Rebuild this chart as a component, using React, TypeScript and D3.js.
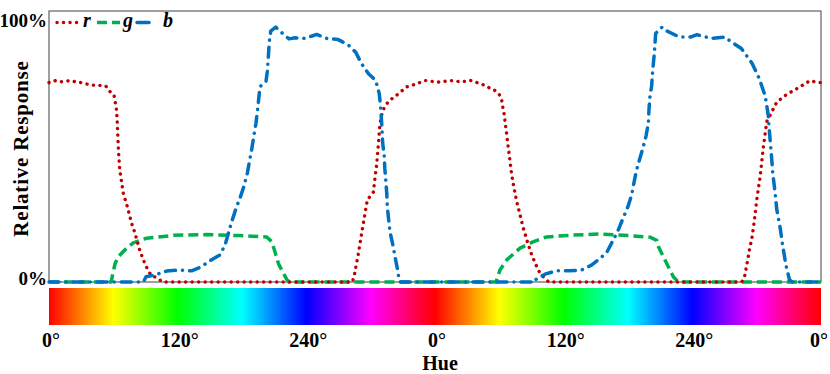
import React from "react";
import * as d3 from "d3";

// hue (deg, two full turns) vs relative response (%)
const redPts: [number, number][] = [
  [0, 76.5], [5, 77.3], [10, 76.8], [15, 77], [20, 77.3], [25, 76.8], [30, 76.5], [35, 76],
  [40, 75.6], [45, 75.5], [50, 75.4], [53, 75.2], [57, 73], [60.6, 71.8], [63, 66], [63.7, 61],
  [64.7, 51], [66, 43], [69.3, 34], [73, 29], [77, 22.6], [80, 19], [85, 11.7], [89.5, 7],
  [92.6, 4.3], [95.8, 2.3], [100, 1.8], [106, 0], [283, 0], [284.8, 2.7], [288.5, 10.8],
  [291.6, 18.7], [294.7, 26.2], [296.9, 31.5], [302.5, 34.5], [304, 39.9], [305.6, 45],
  [307.2, 53.1], [308.7, 60.8], [311.2, 65.8], [316.5, 69.3], [324.3, 71.7], [333.6, 74.9],
  [341, 75.8], [351, 77.3], [362.5, 76.7], [374.7, 77.3], [385, 76.8], [392.7, 77.4],
  [404.5, 75.8], [410.7, 74.5], [415, 73.8], [420, 71.9], [422.2, 69.7], [423.1, 67.4],
  [424.4, 64.6], [425.3, 61.7], [426.9, 56.5], [428.4, 51.4], [430, 46.3], [431.5, 41.2],
  [433.7, 36], [436.2, 30.9], [439.3, 25.8], [442.4, 20.6], [446.1, 15.5], [450.2, 10.4],
  [454.9, 5.9], [458, 3.3], [462.6, 1.4], [466, 0], [646, 0], [648.7, 2], [651, 7], [653.1, 12],
  [655.6, 17], [657.7, 23], [659.6, 30], [661.3, 35], [663.1, 40], [664.7, 46], [666, 51],
  [667.8, 56.5], [669.4, 61.5], [672.5, 64], [678.7, 69], [688, 72], [698.8, 74.5],
  [709.8, 77.3], [715.4, 76.7], [720, 76.5],
];

const greenPts: [number, number][] = [
  [0, 0], [58, 0], [59.4, 3], [61.6, 7], [64.4, 9.6], [69.3, 11.7], [72.5, 13], [78.6, 15],
  [85, 16], [91, 16.8], [116, 17.9], [147, 18.2], [178, 17.8], [203, 17.3], [207.7, 15.5],
  [210.8, 11.5], [213.9, 7.2], [215.4, 5.9], [221.7, 1], [224, 0], [417, 0], [417.5, 0.7],
  [420.6, 4.6], [426.9, 8.5], [439.3, 13], [451.4, 15.4], [464, 17.3], [488.7, 18],
  [514, 18.4], [541.9, 17.8], [560.5, 17.2], [566.8, 16], [568.3, 13.6], [572.9, 9.7],
  [576, 7.2], [582.3, 2], [587, 0], [720, 0],
];

const bluePts: [number, number][] = [
  [0, 0], [88, 0], [90.5, 2], [98.9, 2.7], [109.8, 4.2], [121.5, 4.6], [133, 4.3], [142.4, 5.9],
  [148.6, 7.8], [159.5, 10.4], [164.2, 14.2], [170, 22.6], [175, 29], [178, 32], [182, 37],
  [185, 41.8], [186.8, 46], [189, 50.8], [191, 55.9], [193, 60.8], [195, 68], [196.8, 75],
  [202.4, 77], [203.6, 80.8], [204.6, 86.7], [205.5, 92.4], [206.8, 96.3], [211.4, 97.8],
  [220, 94.6], [224, 93.3], [229.4, 93.7], [238.8, 93.5], [249.7, 95], [259, 93.5],
  [269.3, 93.1], [279, 91], [286, 88.2], [291.6, 83.7], [297.8, 80], [304.7, 77.3],
  [308, 72.3], [309.3, 67], [310.4, 60], [311.2, 53.3], [312.7, 48.2], [313.2, 43.5],
  [315, 34.1], [315.5, 29], [316.8, 23.8], [318, 19.3], [320.5, 14.6], [322.7, 9.7],
  [324.8, 5.3], [326.7, 0.5], [328, 0], [453, 0], [453.3, 0.8], [462.6, 3], [473.5, 4.3],
  [484.3, 4.3], [496.8, 4.6], [506, 6.5], [512.3, 8.5], [520.1, 11.3], [526.3, 16.2],
  [531, 20], [535, 24.1], [540, 29], [543.5, 33.5], [545.6, 38.2], [548, 43], [551.2, 47.6],
  [554.3, 52], [556.8, 56], [559, 61], [559.6, 66.4], [560.5, 71.3], [562, 75], [563, 81],
  [564.6, 88], [565.8, 95.4], [571.8, 97.8], [576.4, 96.3], [587.9, 94], [598.2, 94],
  [604.4, 94.9], [617.5, 93.5], [630.8, 94], [635.5, 92.4], [645.7, 89.6], [655.6, 84],
  [662.5, 78], [668, 71.3], [670.8, 64], [672, 57.2], [673.6, 49.5], [675, 41.8], [677, 35],
  [678.8, 27.7], [681.9, 20.8], [684.4, 13.6], [687.4, 6.3], [690.5, 1], [693, 0], [720, 0],
];

const hueTicks = [0, 120, 240, 360, 480, 600, 720];
const hueLabels = ["0°", "120°", "240°", "0°", "120°", "240°", "0°"];
const yTicks = [0, 100];
const yLabels = ["0%", "100%"];

const series = [
  { key: "g", pts: greenPts, color: "#00b050", dash: "10 5", cap: "butt", w: 3.5 },
  { key: "r", pts: redPts, color: "#c00000", dash: "0.1 6.4", cap: "round", w: 3.4 },
  { key: "b", pts: bluePts, color: "#0070c0", dash: "10 7 0.1 7", cap: "round", w: 3.5 },
];
const legendOrder = ["r", "g", "b"];

const font = "'Liberation Serif', 'Times New Roman', serif";

export default function App() {
  const width = 830;
  const height = 374;
  const plot = { left: 49, right: 821, top: 11, bottom: 282 };

  const x = d3.scaleLinear().domain([0, 720]).range([plot.left, plot.right]);
  const y = d3.scaleLinear().domain([0, 104]).range([plot.bottom, plot.top]);

  const line = d3
    .line<[number, number]>()
    .x((d) => x(d[0]))
    .y((d) => y(d[1]));

  const gradStops = d3.range(0, 721, 30);

  return (
    <svg
      width={width}
      height={height}
      style={{ position: "absolute", left: 0, top: 0, background: "#fff" }}
    >
      <defs>
        <linearGradient id="hueGrad" x1="0" x2="1" y1="0" y2="0">
          {gradStops.map((h) => (
            <stop
              key={h}
              offset={h / 720}
              stopColor={d3.hsl(h % 360, 1, 0.5).formatHex()}
            />
          ))}
        </linearGradient>
      </defs>

      {/* frame */}
      <rect
        x={plot.left}
        y={plot.top}
        width={plot.right - plot.left}
        height={plot.bottom - plot.top}
        fill="none"
        stroke="#404040"
        strokeWidth={1}
      />

      {series.map((s) => (
        <path
          key={s.key}
          d={line(s.pts) || ""}
          fill="none"
          stroke={s.color}
          strokeWidth={s.w}
          strokeDasharray={s.dash}
          strokeLinecap={s.cap as any}
          strokeLinejoin="round"
        />
      ))}

      {/* legend */}
      {legendOrder.map((k, i) => {
        const s = series.find((d) => d.key === k)!;
        const lx = 57 + i * 40;
        const len = k === "b" ? 12 : 23;
        return (
          <g key={k}>
            <line
              x1={lx}
              x2={lx + len}
              y1={22.5}
              y2={22.5}
              stroke={s.color}
              strokeWidth={s.w}
              strokeDasharray={k === "b" ? "none" : s.dash}
              strokeLinecap={s.cap as any}
            />
            <text
              x={lx + 26}
              y={27}
              fontFamily={font}
              fontStyle="italic"
              fontWeight="bold"
              fontSize={20}
            >
              {k}
            </text>
          </g>
        );
      })}

      {/* y tick labels */}
      {yTicks.map((t, i) => (
        <text
          key={t}
          x={plot.left - 2}
          y={y(t) + (t === 0 ? 3 : 5.5)}
          textAnchor="end"
          fontFamily={font}
          fontWeight="bold"
          fontSize={19}
        >
          {yLabels[i]}
        </text>
      ))}

      <text
        transform={`translate(28,${(plot.top + plot.bottom) / 2 + 2}) rotate(-90)`}
        textAnchor="middle"
        fontFamily={font}
        fontWeight="bold"
        fontSize={21}
        letterSpacing={0.8}
      >
        Relative Response
      </text>

      {/* hue colour bar */}
      <rect
        x={plot.left}
        y={288}
        width={plot.right - plot.left}
        height={37}
        fill="url(#hueGrad)"
      />

      {hueTicks.map((t, i) => (
        <text
          key={t}
          x={Math.min(x(t) + 2, 819)}
          y={347}
          textAnchor="middle"
          fontFamily={font}
          fontWeight="bold"
          fontSize={20}
        >
          {hueLabels[i]}
        </text>
      ))}

      <text
        x={(plot.left + plot.right) / 2 + 5}
        y={370}
        textAnchor="middle"
        fontFamily={font}
        fontWeight="bold"
        fontSize={20}
      >
        Hue
      </text>
    </svg>
  );
}
